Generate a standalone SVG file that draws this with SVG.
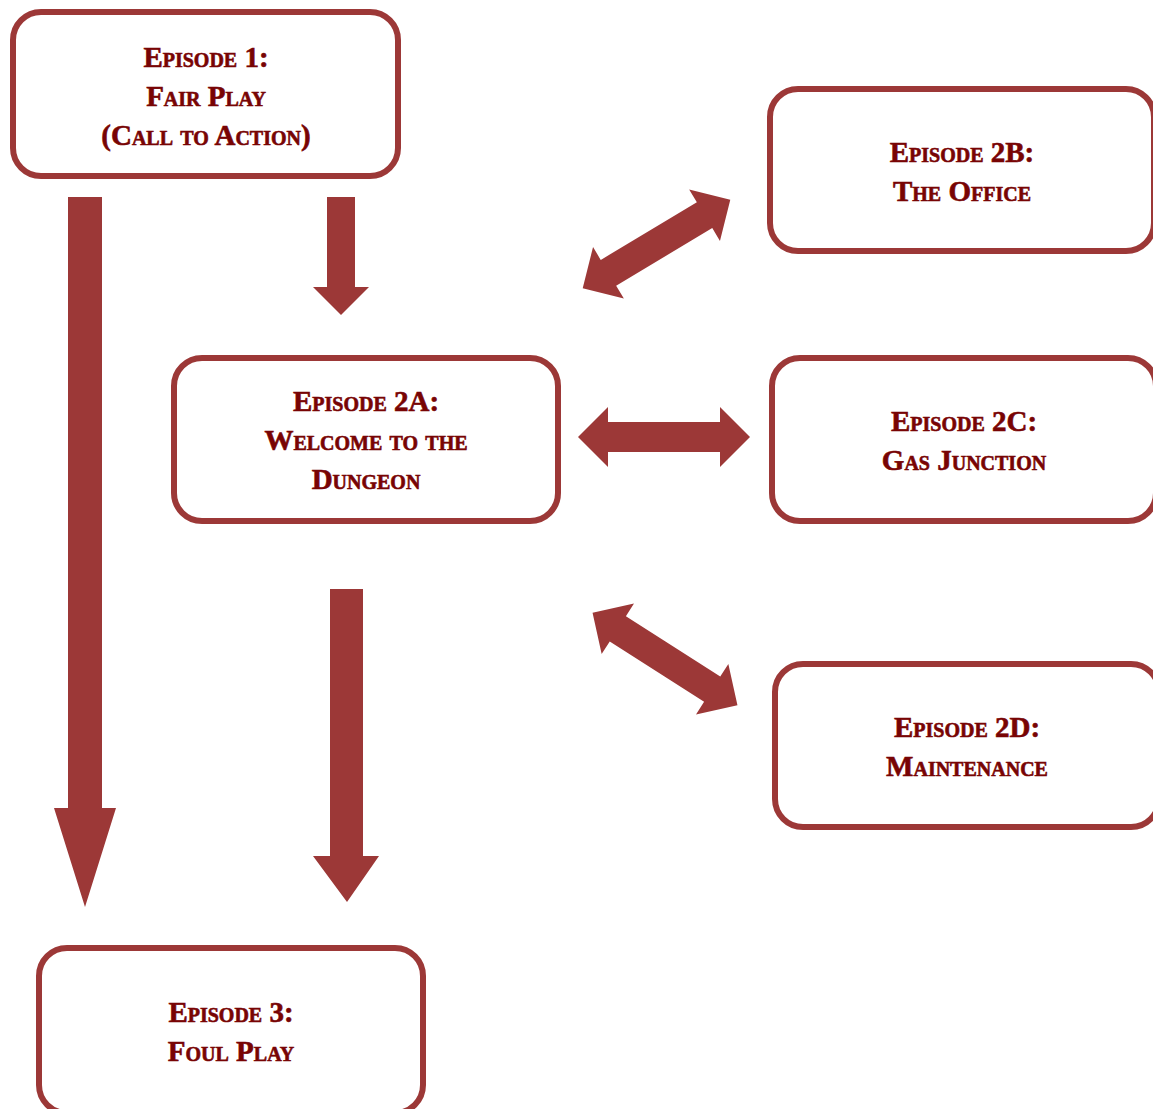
<svg xmlns="http://www.w3.org/2000/svg" width="1153" height="1109" viewBox="0 0 1153 1109">
<defs>
<style>
.box{fill:#fff;stroke:#9c3837;stroke-width:6}
.lbl{font-family:"Liberation Serif","DejaVu Serif",serif;font-weight:bold;font-size:29px;font-variant:small-caps;fill:#780404;stroke:#780404;stroke-width:0.6;text-anchor:middle}
.arr{fill:#9c3837}
</style>
<polygon id="dbl" points="-86,0 -56,-30 -56,-15 56,-15 56,-30 86,0 56,30 56,15 -56,15 -56,30"/>
</defs>
<rect width="1153" height="1109" fill="#fff"/>
<g id="connectors" class="arr">
<polygon points="68,197 102,197 102,808 116,808 85,907 54,808 68,808"/>
<polygon points="327,197 355,197 355,287 369,287 341,315 313,287 327,287"/>
<polygon points="330,589 363,589 363,856 379,856 347,902 313,856 330,856"/>
<use href="#dbl" transform="translate(664,437)"/>
<use href="#dbl" transform="translate(656.5,244) rotate(-30.9)"/>
<use href="#dbl" transform="translate(665,659) rotate(32.6)"/>
</g>
<g id="ep1">
<rect class="box" x="13" y="12" width="385" height="164" rx="28"/>
<text class="lbl"><tspan x="206" y="67">Episode 1:</tspan><tspan x="206" y="106">Fair Play</tspan><tspan x="206" y="145">(Call to Action)</tspan></text>
</g>
<g id="ep2a">
<rect class="box" x="174" y="358" width="384" height="163" rx="28"/>
<text class="lbl"><tspan x="366" y="411">Episode 2A:</tspan><tspan x="366" y="450">Welcome to the</tspan><tspan x="366" y="489">Dungeon</tspan></text>
</g>
<g id="ep2b">
<rect class="box" x="770" y="89" width="384" height="162" rx="28"/>
<text class="lbl"><tspan x="962" y="162">Episode 2B:</tspan><tspan x="962" y="201">The Office</tspan></text>
</g>
<g id="ep2c">
<rect class="box" x="772" y="358" width="384" height="163" rx="28"/>
<text class="lbl"><tspan x="964" y="431">Episode 2C:</tspan><tspan x="964" y="470">Gas Junction</tspan></text>
</g>
<g id="ep2d">
<rect class="box" x="775" y="664" width="384" height="163" rx="28"/>
<text class="lbl"><tspan x="967" y="737">Episode 2D:</tspan><tspan x="967" y="776">Maintenance</tspan></text>
</g>
<g id="ep3">
<rect class="box" x="39" y="948" width="384" height="165" rx="28"/>
<text class="lbl"><tspan x="231" y="1022">Episode 3:</tspan><tspan x="231" y="1061">Foul Play</tspan></text>
</g>
</svg>
